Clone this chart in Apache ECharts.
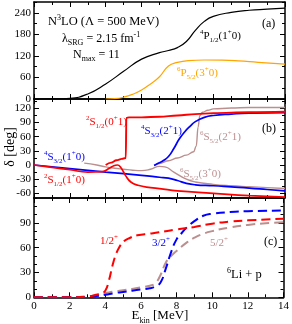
<!DOCTYPE html>
<html><head><meta charset="utf-8">
<script src="https://cdn.jsdelivr.net/npm/echarts@6/dist/echarts.min.js"></script>
<style>html,body{margin:0;padding:0;background:#fff}#c{width:292px;height:324px}</style>
</head><body><div id="c"></div>
<script>
// ---- tick labels ----
const xTicks = [0,2,4,6,8,10,12,14];
const aTicks = [0,60,120,180,240];
const bTicks = [-60,-30,0,30,60,90,120];
const cTicks = [0,30,60,90];

// ---- panel (a) ----
const eP12 = [0,1,2,3,4,5,6,7,7.5,8,8.5,9,9.5,10,11,12,13,14];
const dP12 = [0,0.3,2,14,42,77,111,129,135,143,160,191,216,230,241,247,250,253];
const eP52 = [4,4.5,5,5.5,6,6.5,7,7.5,8,8.6,9.5,10.5,11.4,12.5,14];
const dP52 = [0,1,5,13,25,42,62,92,102,107,108.5,108,106,102,97];

// ---- panel (b) ----
const eS12a = [0,1,2,3,3.8,4.2,4.45,4.65,4.85,5.1,5.4,5.8,6.5,7,8,10,12,14];
const dS12a = [0,-5,-10,-15,-14,-7,-1.5,0,-6,-22,-36,-43,-48,-50,-55,-60,-65,-68];
const eS12b = [4.0,4.3,4.6,4.9,5.12,5.15,5.3,6,7,8,9,10,12,14];
const dS12b = [0,5,10,13,15,100,101,101,102.5,105,108,110,112,113];
const eS32a = [0,2,4,6,7,7.5,8,8.5,9,10,11,12,13,14];
const dS32a = [0,-7.5,-15,-22,-26,-28,-33,-39,-42,-44,-46.5,-49,-52,-55];
const eS32b = [6.7,6.9,7.2,7.5,7.8,8.1,8.4,8.7,9.0,9.5,10,11,12,14];
const dS32b = [-1,3,9,18,35,55,70,82,92,101,105,108,110,111];
const eS52b = [6.7,7,7.5,8,8.5,8.9,9.05,9.15,9.25,9.4,9.7,10,11,12,14];
const dS52b = [-1,3,9,15,21,28,40,80,105,112,116,119,121,122,122];
const eS52a = [2.8,3.5,4,4.5,5,5.5,6,6.5,7,7.3,7.8,8.5,9,10,11,12,13,14];
const dS52a = [4,0,-4,-7,-9,-11,-12,-9,-3,-4,-15,-30,-36,-41,-44,-46,-48,-50];

// ---- panel (c) ----
const eJ12 = [0,2,3,3.5,3.8,4.0,4.2,4.4,4.6,4.8,5,5.4,5.8,6.5,7,8,9,10,11,12,14];
const dJ12 = [0,0,1,3,5,8,20,38,52,61,67,72,75,77,78.5,82,85,89,91.5,93,95];
const eJ32 = [0,2,3,3.5,4,4.5,5,5.5,6,6.5,6.8,7.1,7.4,7.7,8,8.3,8.6,9,9.5,10,11,12,14];
const dJ32 = [0,0,0.5,1.5,3,5,6.5,8,9.5,11,13,18,35,55,70,78,85,92,98.5,101,103,104,105];
const eJ52 = [0,2,3,3.5,4,4.5,5,5.5,6,6.5,6.8,7.1,7.4,7.7,8,8.6,9,9.5,10,11,12,13,14];
const dJ52 = [0,0,1,3,5,7,8.5,10,12,14,17,27,42,50,56,66.7,72,76.8,80,84.5,87.5,89.5,90.7];

const F = 'Liberation Serif';
const BLACK='#000', ORANGE='#ffa500', RED='#ff0000', BLUE='#0000ff', BROWN='#bc8f8f';
function range(a,b,s){const r=[];for(let v=a;v<=b+1e-9;v+=s)r.push(+v.toFixed(6));return r;}
function zip(e,d){return e.map((x,i)=>[x,d[i]]);}

const grids = [
  {left:34,right:7,top:2,height:97},
  {left:34,right:7,top:99,height:99},
  {left:34,right:7,top:198,height:99.3}
];
const yCfg = [
  {min:0,max:270,labels:aTicks,minor:range(0,270,30)},
  {min:-70,max:140,labels:bTicks,minor:range(-60,135,15)},
  {min:0,max:120,labels:cTicks,minor:range(0,120,10)}
];
const xMinor = range(0,14,1);
const lineStyle = {color:'#000',width:1.5};
const xAxes=[], yAxes=[];
grids.forEach((g,i)=>{
  [['bottom',true],['bottom',false],['top',true],['top',false]].forEach(([pos,major])=>{
    xAxes.push({type:'value',gridIndex:i,min:0,max:14,position:pos,
      axisLine:{show:major,onZero:false,lineStyle},
      splitLine:{show:false},
      axisTick:{show:true,inside:true,length:major?5:3,customValues:major?xTicks:xMinor,lineStyle:{color:'#000',width:1}},
      axisLabel:{show:major&&pos==='bottom'&&i===2,customValues:xTicks,fontFamily:F,fontSize:11,color:'#000',margin:3}
    });
  });
  const c=yCfg[i];
  [['left',true],['left',false],['right',true],['right',false]].forEach(([pos,major])=>{
    yAxes.push({type:'value',gridIndex:i,min:c.min,max:c.max,position:pos,
      axisLine:{show:major,onZero:false,lineStyle},
      splitLine:{show:false},
      axisTick:{show:true,inside:true,length:major?5:3,customValues:major?c.labels:c.minor,lineStyle:{color:'#000',width:1}},
      axisLabel:{show:major&&pos==='left',customValues:c.labels,fontFamily:F,fontSize:11,color:'#000',margin:3}
    });
  });
});

function ser(g,e,d,color,width,dash,mono){
  const s={type:'line',xAxisIndex:4*g,yAxisIndex:4*g,data:zip(e,d),showSymbol:false,
    smooth:mono?0.4:0.5,clip:true,animation:false,
    lineStyle:{color,width,type:dash?[9,5]:'solid'}};
  if(mono) s.smoothMonotone='x';
  return s;
}
const series=[
  ser(0,eP12,dP12,BLACK,1.2),
  ser(0,eP52,dP52,ORANGE,1.2),
  ser(1,eS52a,dS52a,BROWN,1.4),
  ser(1,eS52b,dS52b,BROWN,1.4,false,true),
  ser(1,eS32a,dS32a,BLUE,1.7),
  ser(1,eS32b,dS32b,BLUE,1.7),
  ser(1,eS12a,dS12a,RED,1.7),
  ser(1,eS12b,dS12b,RED,1.9,false,true),
  ser(2,eJ52,dJ52,BROWN,2,true),
  ser(2,eJ32,dJ32,BLUE,2,true),
  ser(2,eJ12,dJ12,RED,2,true)
];

function rich(color,size){
  const s=size||11, ss=Math.round(s*0.65);
  return {
    n:{fill:color,color,fontFamily:F,fontSize:s,lineHeight:s+4},
    sup:{fill:color,color,fontFamily:F,fontSize:ss,lineHeight:ss+2,verticalAlign:'top'},
    sub:{fill:color,color,fontFamily:F,fontSize:ss,lineHeight:ss+2,verticalAlign:'bottom'}
  };
}
function txt(x,y,text,color,size,align,rot){
  return {type:'text',x,y,rotation:rot||0,z:100,
    style:{text,rich:rich(color,size),fill:color,font:(size||11)+'px '+F,align:align||'left',verticalAlign:'middle'}};
}
const graphic=[
  txt(48,22,'{n|N}{sup|3}{n|LO (Λ = 500 MeV)}',BLACK,12.5),
  txt(62,38.5,'{n|λ}{sub|SRG}{n| = 2.15 fm}{sup|-1}',BLACK,12),
  txt(73,54.5,'{n|N}{sub|max}{n| = 11}',BLACK,12),
  txt(262,24,'{n|(a)}',BLACK,12),
  txt(200,36,'{sup|4}{n|P}{sub|1/2}{n|(1}{sup|+}{n|0)}',BLACK,11),
  txt(177,73,'{sup|6}{n|P}{sub|5/2}{n|(3}{sup|+}{n|0)}',ORANGE,11),
  txt(262,129,'{n|(b)}',BLACK,12),
  txt(86,122,'{sup|2}{n|S}{sub|1/2}{n|(0}{sup|+}{n|1)}',RED,11),
  txt(141,131,'{sup|4}{n|S}{sub|3/2}{n|(2}{sup|+}{n|1)}',BLUE,11),
  txt(200,137,'{sup|6}{n|S}{sub|5/2}{n|(2}{sup|+}{n|1)}',BROWN,11),
  txt(180,174,'{sup|6}{n|S}{sub|5/2}{n|(3}{sup|+}{n|0)}',BROWN,11),
  txt(44,157.5,'{sup|4}{n|S}{sub|3/2}{n|(1}{sup|+}{n|0)}',BLUE,11),
  txt(44,180,'{sup|2}{n|S}{sub|1/2}{n|(1}{sup|+}{n|0)}',RED,11),
  txt(100,241,'{n|1/2}{sup|+}',RED,11),
  txt(152,243,'{n|3/2}{sup|+}',BLUE,11),
  txt(210,243,'{n|5/2}{sup|+}',BROWN,11),
  txt(264,242,'{n|(c)}',BLACK,12),
  txt(227,275,'{sup|6}{n|Li + p}',BLACK,12.5),
  txt(160,316,'{n|E}{sub|kin}{n| [MeV]}',BLACK,13,'center'),
  txt(10,147,'{n|δ [deg]}',BLACK,14,'center',Math.PI/2)
];

const chart=echarts.init(document.getElementById('c'),null,{renderer:'canvas'});
chart.setOption({animation:false,backgroundColor:'#fff',grid:grids,xAxis:xAxes,yAxis:yAxes,series,graphic});
</script></body></html>
